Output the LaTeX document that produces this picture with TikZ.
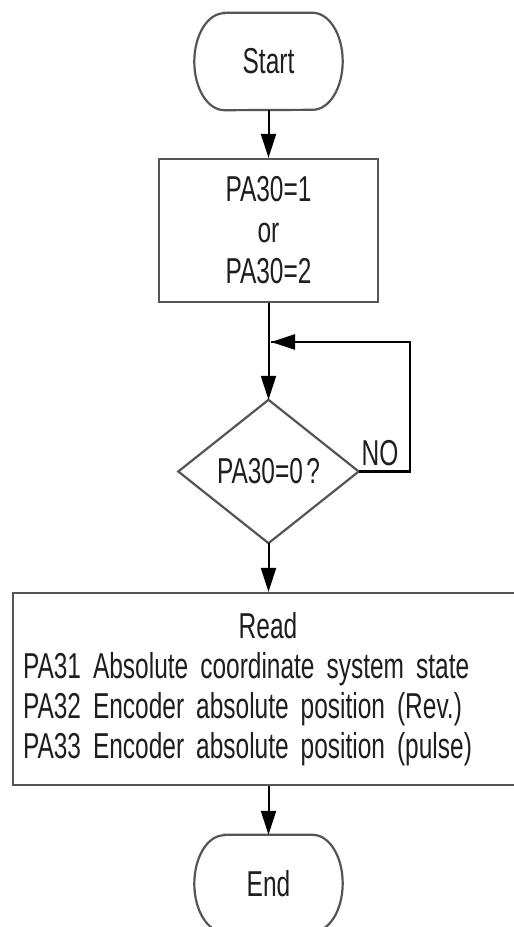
\documentclass[tikz,border=0pt]{standalone}
\usepackage{fontspec}
\setmainfont{Liberation Sans}[FakeStretch=0.68, WordSpace=0.5]
\usetikzlibrary{arrows.meta}
\definecolor{shapegray}{HTML}{555555}
\definecolor{txt}{HTML}{1E1E1E}
\begin{document}
\begin{tikzpicture}[x=1pt,y=-1pt,
  every node/.style={font=\fontsize{36}{40}\selectfont, text=txt},
  outline/.style={draw=shapegray, line width=2.2pt},
  flow/.style={draw=black, line width=2pt, -{Triangle[width=15pt,length=24pt]}},
  loopline/.style={draw=black, line width=2.6pt, line join=miter},
  plainbox/.style={rectangle, inner sep=0pt}]
\useasboundingbox (0,0) rectangle (514,927);
\clip (0,0) rectangle (514,927);
\fill[white] (0,0) rectangle (514,927);

% Start terminal
\node[plainbox, minimum width=148pt, minimum height=97pt] (start) at (268.5,61.5) {Start};
\draw[outline] ([xshift=30pt]start.north west) -- ([xshift=-30pt]start.north east)
  arc[start angle=90, end angle=-90, x radius=30pt, y radius=48.5pt]
  -- ([xshift=30pt]start.south west)
  arc[start angle=270, end angle=90, x radius=30pt, y radius=48.5pt] -- cycle;

% Box 1
\node[plainbox, outline, minimum width=219pt, minimum height=143pt, align=center,
      font=\fontsize{36}{41}\selectfont] (set) at (268.5,230.5) {PA30=1\\or\\PA30=2};

% Decision
\node[plainbox, minimum width=180pt, minimum height=143pt] (dec) at (268.5,471.5) {PA30=0 ?};
\draw[outline, line join=miter] (dec.north) -- (dec.east) -- (dec.south) -- (dec.west) -- cycle;

% Read box
\node[plainbox, outline, minimum width=510pt, minimum height=192pt, text width=490pt,
      align=left, font=\fontsize{36}{40}\selectfont] (read) at (268,689)
  {\makebox[\linewidth]{Read}\\
   PA31 Absolute coordinate system state\\
   PA32 Encoder absolute position (Rev.)\\
   PA33 Encoder absolute position (pulse)};

% End terminal
\node[plainbox, minimum width=148pt, minimum height=97pt] (end) at (268.5,883.5) {End};
\draw[outline] ([xshift=30pt]end.north west) -- ([xshift=-30pt]end.north east)
  arc[start angle=90, end angle=-90, x radius=30pt, y radius=48.5pt]
  -- ([xshift=30pt]end.south west)
  arc[start angle=270, end angle=90, x radius=30pt, y radius=48.5pt] -- cycle;

% Connectors
\draw[flow] (start.south) -- (set.north);
\draw[flow] (set.south) -- (dec.north);
\draw[flow] (dec.south) -- (read.north -| dec.south);
\draw[flow] (read.south -| end.north) -- (end.north);

% NO loop
\coordinate (loopcorner) at (410,342);
\coordinate (loopin) at (271,342);
\draw[loopline] (dec.east) -| (loopcorner) -- (loopin);
\draw[flow, line width=2.6pt] (loopcorner) -- (loopin);
\node (no) at (380,453) {NO};
\end{tikzpicture}
\end{document}
